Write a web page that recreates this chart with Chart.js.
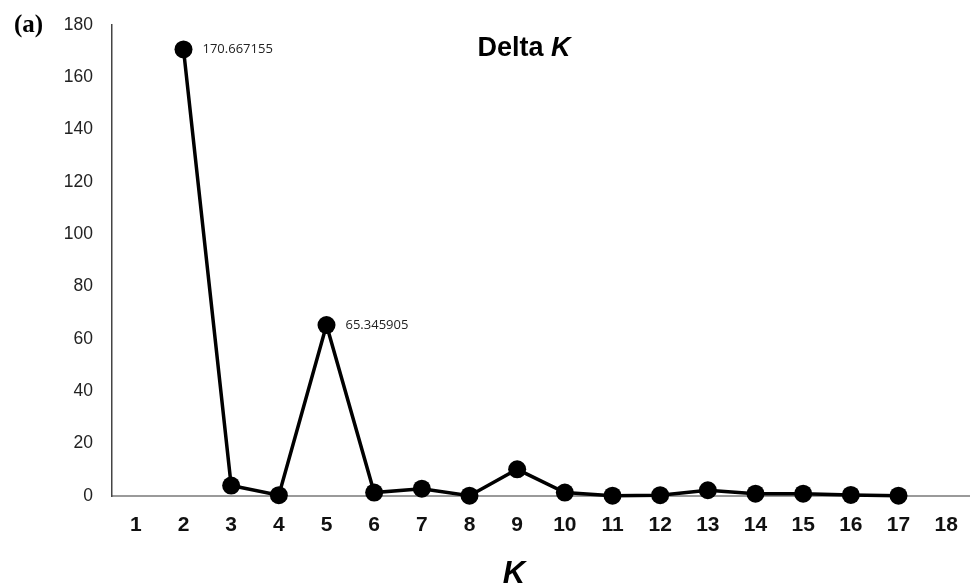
<!DOCTYPE html>
<html>
<head>
<meta charset="utf-8">
<script src="https://cdn.jsdelivr.net/npm/chart.js@4/dist/chart.umd.min.js"></script>
<style>
  html, body { margin: 0; padding: 0; background: #fff; }
  #wrap { width: 970px; height: 586px; }
</style>
</head>
<body>
<div id="wrap"><canvas id="chartDelta" width="970" height="586"></canvas></div>
<script>
  // data
  const kLabels = ['1','2','3','4','5','6','7','8','9','10','11','12','13','14','15','16','17','18'];
  const deltaK = [null, 170.667155, 4.0, 0.3, 65.345905, 1.3, 2.8, 0.1, 10.2, 1.3, 0.1, 0.3, 2.2, 0.9, 0.9, 0.4, 0.1, null];
  const yTicks = [0, 20, 40, 60, 80, 100, 120, 140, 160, 180];
  const labelledPoints = [1, 4];

  // teks tambahan: judul, (a), label sumbu x, label nilai
  const extraText = {
    id: 'extraText',
    afterDraw(chart) {
      const ctx = chart.ctx;
      ctx.save();
      ctx.fillStyle = '#000';
      ctx.textBaseline = 'alphabetic';

      ctx.font = 'bold 25px "Liberation Serif", "Times New Roman", serif';
      ctx.textAlign = 'left';
      ctx.fillText('(a)', 14, 32);

      // judul "Delta K"
      const fontA = 'bold 27px "Liberation Sans", Arial, sans-serif';
      const fontB = 'italic bold 27px "Liberation Sans", Arial, sans-serif';
      ctx.font = fontA;
      const w1 = ctx.measureText('Delta ').width;
      ctx.font = fontB;
      const w2 = ctx.measureText('K').width;
      const x0 = 524 - (w1 + w2) / 2;
      ctx.font = fontA;
      ctx.fillText('Delta ', x0, 56);
      ctx.font = fontB;
      ctx.fillText('K', x0 + w1, 56);

      // label sumbu x
      ctx.textAlign = 'center';
      ctx.font = 'italic bold 31px "Liberation Sans", Arial, sans-serif';
      ctx.fillText('K', 514, 583);

      // label nilai
      const meta = chart.getDatasetMeta(0);
      ctx.textAlign = 'left';
      ctx.textBaseline = 'middle';
      ctx.font = '13px "Open Sans", "DejaVu Sans", sans-serif';
      ctx.fillStyle = '#222';
      labelledPoints.forEach(function (i) {
        const p = meta.data[i];
        ctx.fillText(deltaK[i].toFixed(6), p.x + 19, p.y);
      });
      ctx.restore();
    }
  };

  const ctxDelta = document.getElementById('chartDelta').getContext('2d');

  new Chart(ctxDelta, {
    type: 'line',
    data: {
      labels: kLabels,
      datasets: [{
        data: deltaK,
        borderColor: '#000',
        backgroundColor: '#000',
        borderWidth: 3.5,
        pointRadius: 9,
        pointBackgroundColor: '#000',
        pointBorderWidth: 0,
        tension: 0,
        clip: false,
        spanGaps: false
      }]
    },
    options: {
      responsive: false,
      animation: false,
      layout: { autoPadding: false, padding: { top: 25, left: 0, right: 0, bottom: 0 } },
      plugins: {
        legend: { display: false },
        tooltip: { enabled: false }
      },
      scales: {
        x: {
          offset: true,
          grid: { display: false, drawTicks: false },
          border: { display: true, color: '#9a9a9a', width: 2 },
          ticks: {
            padding: 17,
            color: '#111',
            font: { size: 21, weight: 'bold', family: '"Liberation Sans", Arial, sans-serif' }
          },
          afterFit(scale) {
            scale.height = 90;
            scale.paddingLeft = 0;
            scale.paddingRight = 0;
          }
        },
        y: {
          min: 0,
          max: 180,
          afterBuildTicks(scale) { scale.ticks = yTicks.map(v => ({ value: v })); },
          grid: { display: false, drawTicks: false },
          border: { display: true, color: '#444', width: 1.5 },
          ticks: {
            padding: 19,
            color: '#222',
            font: { size: 17.5, family: '"Liberation Sans", Arial, sans-serif' }
          },
          afterFit(scale) {
            scale.width = 112;
            scale.paddingTop = 0;
            scale.paddingBottom = 0;
          }
        }
      }
    },
    plugins: [extraText]
  });
</script>
</body>
</html>
